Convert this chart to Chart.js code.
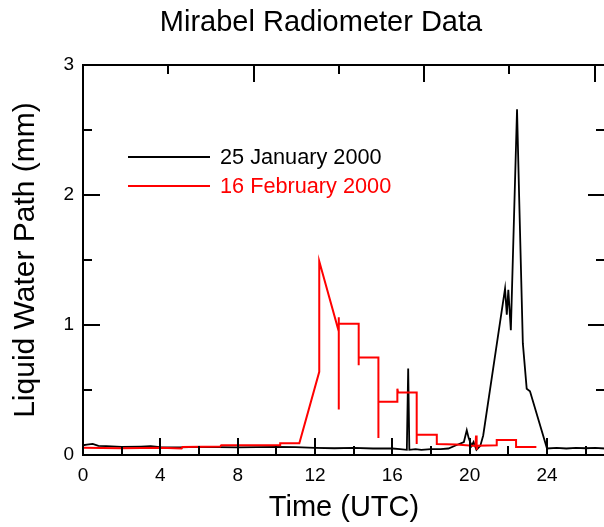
<!DOCTYPE html>
<html lang="en">
<head>
<meta charset="UTF-8">
<title>Mirabel Radiometer Data</title>
<script src="https://cdn.jsdelivr.net/npm/chart.js"></script>
<style>
  body { margin: 0; overflow: hidden; background: #fff; }
  canvas { display: block; }
</style>
</head>
<body>
<canvas id="lwpChart" width="606" height="527"></canvas>
<script>
// 25 January 2000: time (h UTC) and liquid water path (mm)
const janHours = [0, 0.2, 0.5, 0.8, 1.2, 2, 3, 3.5, 4, 5, 6, 7, 8, 9, 10, 11, 12, 13, 14, 15, 16,
  16.4, 16.75, 16.82, 16.88, 17.2, 17.5, 18, 18.5, 18.9, 19.3, 19.7, 19.85, 19.95, 20.1, 20.2,
  20.35, 20.55, 20.7, 21.83, 21.92, 22.0, 22.13, 22.45, 22.56, 22.75, 22.95, 23.12, 24.0,
  24.5, 25, 25.5, 26, 26.5, 27];
const janLwp = [0.075, 0.08, 0.085, 0.07, 0.068, 0.062, 0.065, 0.068, 0.06, 0.058, 0.062, 0.06,
  0.058, 0.06, 0.062, 0.06, 0.055, 0.052, 0.055, 0.05, 0.05,
  0.045, 0.04, 0.665, 0.04, 0.045, 0.04, 0.045, 0.045, 0.05, 0.075, 0.1, 0.19, 0.13, 0.07, 0.1,
  0.04, 0.07, 0.15, 1.28, 1.08, 1.27, 0.96, 2.66, 1.98, 0.86, 0.51, 0.49, 0.05,
  0.055, 0.05, 0.055, 0.052, 0.055, 0.05];

// 16 February 2000
const febHours = [0, 2, 4, 5.1, 5.15, 7.1, 7.15, 10.19, 10.2, 11.19, 12.22, 12.22, 13.23,
  13.23, 13.23, 13.23, 14.26, 14.26, 14.26, 15.28, 15.28, 15.28, 16.26, 16.26, 16.3, 17.26,
  17.26, 17.26, 18.3, 18.3, 19.3, 20.3, 20.33, 20.36, 20.4, 21.4, 21.4, 22.4, 22.4, 23.45];
const febLwp = [0.055, 0.052, 0.055, 0.05, 0.062, 0.065, 0.075, 0.075, 0.09, 0.09, 0.64, 1.49, 0.95,
  0.35, 1.06, 1.01, 1.01, 0.69, 0.75, 0.75, 0.13, 0.41, 0.41, 0.51, 0.48, 0.48,
  0.085, 0.155, 0.155, 0.085, 0.08, 0.07, 0.15, 0.04, 0.072, 0.075, 0.115, 0.115, 0.062, 0.062];

const seriesLabels = ['25 January 2000', '16 February 2000'];
const xTickLabels = [0, 4, 8, 12, 16, 20, 24];
const yTickLabels = [0, 1, 2, 3];

const FONT = '"Liberation Sans", Arial, sans-serif';

function toPoints(xs, ys) {
  return xs.map((x, i) => ({ x: x, y: ys[i] }));
}

// boxed frame with inward ticks on all four sides
const framePlugin = {
  id: 'frame',
  afterDraw(chart) {
    const { ctx, chartArea: a, scales } = chart;
    const sx = scales.x, sy = scales.y, st = scales.xTop;
    ctx.save();
    ctx.strokeStyle = '#000';
    ctx.lineWidth = 2;
    ctx.strokeRect(a.left, a.top, a.right - a.left, a.bottom - a.top);
    ctx.beginPath();
    for (let h = 0; h <= sx.max; h += 2) {
      const px = Math.round(sx.getPixelForValue(h));
      const len = h % 4 === 0 ? 17 : 9;
      ctx.moveTo(px, a.bottom);
      ctx.lineTo(px, a.bottom - len);
    }
    for (let v = 0; v <= sy.max; v += 0.5) {
      const py = Math.round(sy.getPixelForValue(v));
      const len = v % 1 === 0 ? 17 : 9;
      ctx.moveTo(a.left, py);
      ctx.lineTo(a.left + len, py);
      ctx.moveTo(a.right, py);
      ctx.lineTo(a.right - len, py);
    }
    for (let k = 1; k <= st.max; k++) {
      const px = Math.round(st.getPixelForValue(k));
      const len = k % 2 === 0 ? 17 : 9;
      ctx.moveTo(px, a.top);
      ctx.lineTo(px, a.top + len);
    }
    ctx.stroke();
    ctx.restore();
  }
};

// heading and the in-plot key
const labelsPlugin = {
  id: 'labels',
  afterDraw(chart) {
    const ctx = chart.ctx;
    ctx.save();
    ctx.fillStyle = '#000';
    ctx.font = '29px ' + FONT;
    ctx.textAlign = 'center';
    ctx.textBaseline = 'middle';
    ctx.fillText('Mirabel Radiometer Data', 321, 23);

    ctx.textAlign = 'left';
    ctx.font = '21.7px ' + FONT;
    chart.data.datasets.forEach((ds, i) => {
      const y = 157 + i * 29;
      ctx.strokeStyle = ds.borderColor;
      ctx.lineWidth = 2;
      ctx.beginPath();
      ctx.moveTo(128, y);
      ctx.lineTo(210, y);
      ctx.stroke();
      ctx.fillStyle = ds.borderColor;
      ctx.fillText(ds.label, 220, y + 1);
    });
    ctx.restore();
  }
};

new Chart(document.getElementById('lwpChart'), {
  type: 'line',
  data: {
    datasets: [
      {
        label: seriesLabels[0],
        data: toPoints(janHours, janLwp),
        borderColor: '#000000',
        borderWidth: 1.8,
        order: 1
      },
      {
        label: seriesLabels[1],
        data: toPoints(febHours, febLwp),
        borderColor: '#ff0000',
        borderWidth: 2,
        order: 0
      }
    ]
  },
  options: {
    responsive: false,
    animation: false,
    layout: { padding: { top: 65, right: 1, left: 0, bottom: 0 } },
    elements: { point: { radius: 0 }, line: { tension: 0 } },
    plugins: { legend: { display: false }, tooltip: { enabled: false } },
    scales: {
      x: {
        type: 'linear',
        position: 'bottom',
        min: 0,
        max: 27,
        afterBuildTicks: s => { s.ticks = xTickLabels.map(v => ({ value: v })); },
        afterFit: s => { s.height = 72; },
        grid: { display: false, drawTicks: false },
        border: { display: false },
        ticks: { color: '#000', font: { family: FONT, size: 19 }, padding: 9, maxRotation: 0 },
        title: { display: true, text: 'Time (UTC)', color: '#000', font: { family: FONT, size: 29 }, padding: { top: 0, bottom: 2 } }
      },
      xTop: {
        type: 'linear',
        position: 'top',
        display: false,
        min: 0,
        max: 6.12
      },
      y: {
        type: 'linear',
        min: 0,
        max: 3,
        afterBuildTicks: s => { s.ticks = yTickLabels.map(v => ({ value: v })); },
        afterFit: s => { s.width = 83; },
        grid: { display: false, drawTicks: false },
        border: { display: false },
        ticks: { color: '#000', font: { family: FONT, size: 19 }, padding: 9 },
        title: { display: true, text: 'Liquid Water Path (mm)', color: '#000', font: { family: FONT, size: 30 }, padding: { top: 8, bottom: 0 } }
      }
    }
  },
  plugins: [framePlugin, labelsPlugin]
});
</script>
</body>
</html>
